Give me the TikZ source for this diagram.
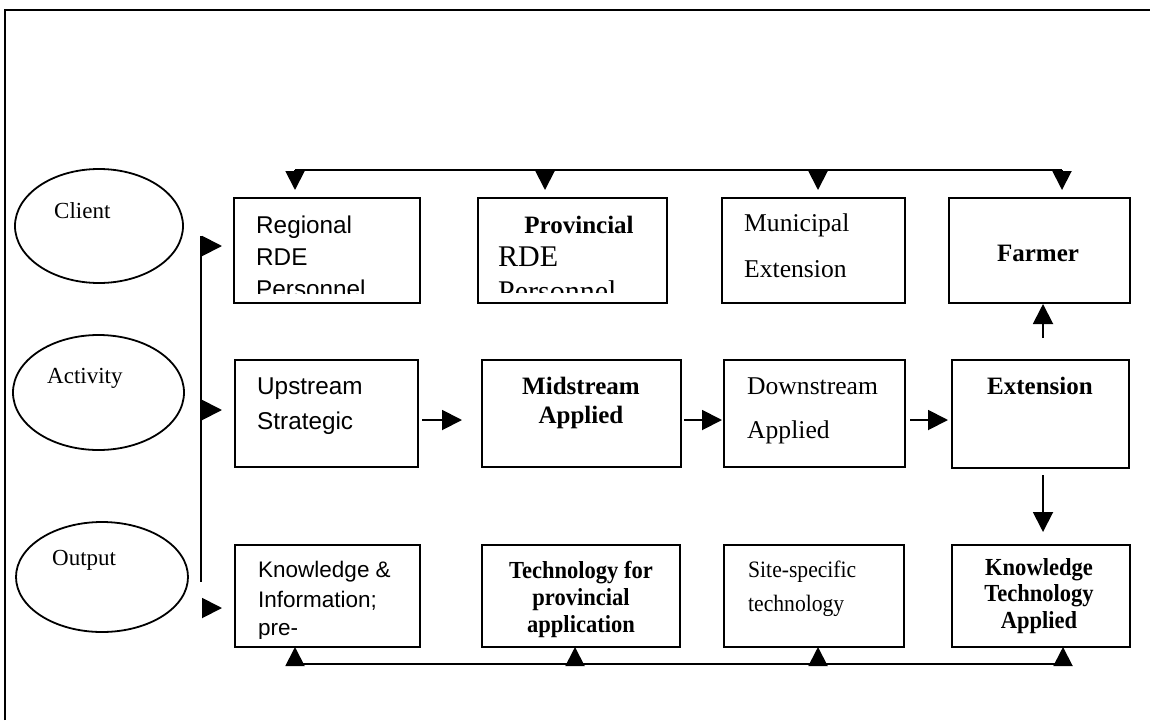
\documentclass[tikz,border=0pt]{standalone}
\usepackage{fontspec}
\setmainfont{Liberation Serif}
\newfontfamily\arialf{Liberation Sans}
\newfontfamily\serifn[FakeStretch=0.92]{Liberation Serif}
\usetikzlibrary{arrows.meta,shapes.geometric}
\begin{document}
\begin{tikzpicture}[x=1pt,y=-1pt,
  box/.style={draw, line width=2.4pt, inner sep=0pt, outer sep=0pt, anchor=north west},
  ell/.style={draw, ellipse, line width=1.8pt, inner sep=0pt, outer sep=0pt},
  conn/.style={line width=1.9pt},
  tipd/.style={conn, -{Triangle[length=19pt,width=19pt]}},
  tipr/.style={conn, -{Triangle[length=20pt,width=20pt]}},
  lbl/.style={inner sep=0pt, anchor=base west},
  lblc/.style={inner sep=0pt, anchor=base},
  sansA/.style={font=\arialf\fontsize{24.3}{28}\selectfont},
  sansB/.style={font=\arialf\fontsize{22.5}{26}\selectfont},
  serR/.style={font=\fontsize{25.6}{29}\selectfont},
  serB/.style={font=\bfseries\fontsize{25}{29}\selectfont},
  serL/.style={font=\fontsize{30}{34}\selectfont},
  ellT/.style={font=\fontsize{23}{27}\selectfont},
  serBn/.style={font=\serifn\bfseries\fontsize{24.5}{28}\selectfont},
  serRn/.style={font=\serifn\fontsize{23.5}{27}\selectfont}
]
\useasboundingbox (0,0) rectangle (1150,720);
% frame
\draw[line width=2.4pt] (5,720) -- (5,10) -- (1150,10);

% ellipses
\node[ell, minimum width=168pt, minimum height=114pt] (eC) at (99,226) {};
\node[ell, minimum width=171pt, minimum height=115pt] (eA) at (98.5,392.5) {};
\node[ell, minimum width=172pt, minimum height=110pt] (eO) at (102,577) {};
\node[lbl, ellT] (tC) at (54,218) {Client};
\node[lbl, ellT] (tA) at (47,383) {Activity};
\node[lbl, ellT] (tO) at (52,565) {Output};

% row 1
\node[box, minimum width=186pt, minimum height=105pt] (reg) at (234,198) {};
\node[box, minimum width=189pt, minimum height=105pt] (prov) at (478,198) {};
\node[box, minimum width=183pt, minimum height=105pt] (mun) at (722,198) {};
\node[box, minimum width=181pt, minimum height=105pt] (farm) at (949,198) {};
% row 2
\node[box, minimum width=183pt, minimum height=107pt] (up) at (235,360) {};
\node[box, minimum width=199pt, minimum height=107pt] (mid) at (482,360) {};
\node[box, minimum width=181pt, minimum height=107pt] (down) at (724,360) {};
\node[box, minimum width=177pt, minimum height=108pt] (ext) at (952,360) {};
% row 3
\node[box, minimum width=185pt, minimum height=102pt] (kn) at (235,545) {};
\node[box, minimum width=198pt, minimum height=102pt] (tech) at (482,545) {};
\node[box, minimum width=180pt, minimum height=102pt] (site) at (724,545) {};
\node[box, minimum width=178pt, minimum height=102pt] (kta) at (952,545) {};

% texts row 1
\begin{scope}
  \clip (reg.north west) rectangle (reg.east |- 0,293);
  \node[lbl, sansA] (r1) at (256,233) {Regional};
  \node[lbl, sansA] (r2) at (256,265) {RDE};
  \node[lbl, sansA] (r3) at (256,297) {Personnel};
\end{scope}
\begin{scope}
  \clip (prov.north west) rectangle (prov.east |- 0,292);
  \node[lblc, serB] (p1) at (579,233) {Provincial};
  \node[lbl, serL] (p2) at (498,266) {RDE};
  \node[lbl, serL] (p3) at (498,301) {Personnel};
\end{scope}
\node[lbl, serR] (m1) at (744,231) {Municipal};
\node[lbl, serR] (m2) at (744,277) {Extension};
\node[lblc, serB] (f1) at (1038,261) {Farmer};

% texts row 2
\node[lbl, sansA] (u1) at (257,394) {Upstream};
\node[lbl, sansA] (u2) at (257,429) {Strategic};
\node[lblc, serB] (d1) at (581,394) {Midstream};
\node[lblc, serB] (d2) at (581,423) {Applied};
\node[lbl, serR] (w1) at (747,394) {Downstream};
\node[lbl, serR] (w2) at (747,438) {Applied};
\node[lblc, serB] (x1) at (1040,394) {Extension};

% texts row 3
\begin{scope}
  \clip (kn.north west) rectangle (kn.east |- 0,638);
  \node[lbl, sansB] (k1) at (258,577) {Knowledge \&};
  \node[lbl, sansB] (k2) at (258,607) {Information;};
  \node[lbl, sansB] (k3) at (258,635) {pre-};
\end{scope}
\node[lblc, serBn] (c1) at (581,578) {Technology for};
\node[lblc, serBn] (c2) at (581,605) {provincial};
\node[lblc, serBn] (c3) at (581,632) {application};
\node[lbl, serRn] (s1) at (748,577) {Site-specific};
\node[lbl, serRn] (s2) at (748,611) {technology};
\node[lblc, serBn] (a1) at (1039,575) {Knowledge};
\node[lblc, serBn] (a2) at (1039,601) {Technology};
\node[lblc, serBn] (a3) at (1039,628) {Applied};

% top bus
\coordinate (ta) at (295,170);
\coordinate (tb) at (545,170);
\coordinate (tc) at (818,170);
\coordinate (td) at (1062,170);
\draw[conn] (ta) -- (td);
\draw[tipd, shorten >=8pt] (ta) -- (ta |- reg.north);
\draw[tipd, shorten >=8pt] (tb) -- (tb |- prov.north);
\draw[tipd, shorten >=8pt] (tc) -- (tc |- mun.north);
\draw[tipd, shorten >=8pt] (td) -- (td |- farm.north);

% bottom bus
\coordinate (ba) at (295,664);
\coordinate (bb) at (575,664);
\coordinate (bc) at (818,664);
\coordinate (bd) at (1063,664);
\draw[conn] (ba) -- (bd);
\draw[tipd] (ba) -- (ba |- kn.south);
\draw[tipd] (bb) -- (bb |- tech.south);
\draw[tipd] (bc) -- (bc |- site.south);
\draw[tipd] (bd) -- (bd |- kta.south);

% left vertical line and flags
\coordinate (vtop) at (201,236);
\coordinate (vbot) at (201,582);
\draw[conn] (vtop) -- (vbot);
\coordinate (fa) at (201,246);
\coordinate (fb) at (201,410);
\coordinate (fc) at (202,608);
\draw[tipr, shorten >=12pt] (fa) -- (fa -| reg.west);
\draw[tipr, shorten >=13pt] (fb) -- (fb -| up.west);
\draw[tipr, shorten >=13pt] (fc) -- (fc -| kn.west);

% row 2 flow
\coordinate (rowy) at (0,420);
\draw[tipr, shorten <=4pt, shorten >=20pt] (up.east |- rowy) -- (mid.west |- rowy);
\draw[tipr, shorten <=3pt, shorten >=2pt] (mid.east |- rowy) -- (down.west |- rowy);
\draw[tipr, shorten <=5pt, shorten >=4pt] (down.east |- rowy) -- (ext.west |- rowy);

% extension up / down
\coordinate (xcol) at (1043,0);
\draw[tipr, shorten <=22pt, shorten >=1pt] (xcol |- ext.north) -- (xcol |- farm.south);
\draw[tipr, shorten <=7pt, shorten >=13pt] (xcol |- ext.south) -- (xcol |- kta.north);
\end{tikzpicture}
\end{document}
